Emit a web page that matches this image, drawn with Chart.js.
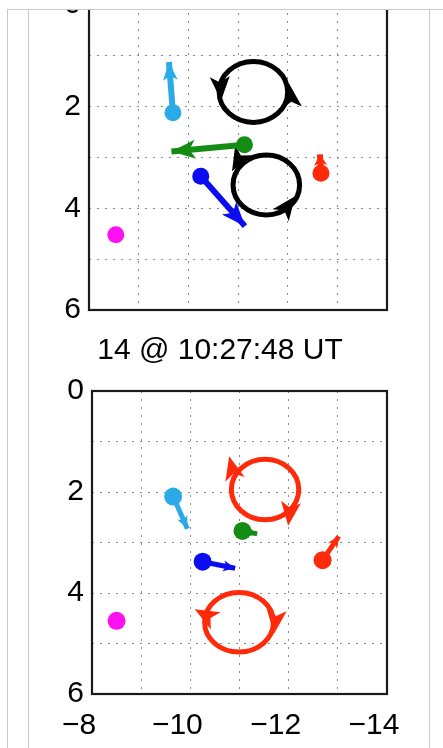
<!DOCTYPE html>
<html><head><meta charset="utf-8">
<script src="https://cdn.jsdelivr.net/npm/chart.js@4"></script>
<style>
html,body{margin:0;padding:0;background:#fff;}
body{width:443px;height:748px;overflow:hidden;position:relative;}
.ln{position:absolute;background:#c9c9c9;}
#clipTop{position:absolute;left:0;top:10px;width:443px;height:322px;overflow:hidden;}
#cTop{position:absolute;left:0;top:-70px;}
#cBot{position:absolute;left:0;top:330px;}
</style></head><body>
<div id="clipTop"><canvas id="cTop" width="443" height="420"></canvas></div>
<canvas id="cBot" width="443" height="418"></canvas>
<div class="ln" style="left:7px;top:9px;width:436px;height:1px"></div>
<div class="ln" style="left:7px;top:9px;width:1px;height:739px"></div>
<div class="ln" style="left:28px;top:9px;width:1px;height:739px"></div>
<div class="ln" style="left:429px;top:9px;width:1px;height:739px"></div>
<script>
// ---- data ----
const objectNames = ['cyan', 'green', 'blue', 'red', 'magenta'];
const objectColors = ['#2baae8', '#148c14', '#0c0cf0', '#ff2a0a', '#ff10f0'];
const xTickValues = [-8, -10, -12, -14];
const yTickValues = [0, 2, 4, 6];

// top panel
const topStartX = [-9.69, -11.13, -10.25, -12.67, -8.54];
const topStartY = [2.12, 2.75, 3.37, 3.31, 4.52];
const topEndX = [-9.61, -9.66, -11.14, -12.65, null];
const topEndY = [1.12, 2.88, 4.35, 2.94, null];
const topVortexX = [-11.31, -11.57];
const topVortexY = [1.71, 3.54];
const topVortexRx = [0.69, 0.67];
const topVortexRy = [0.60, 0.59];
const topVortexHeadTipX = [-10.66, -12.03, -10.88, -12.15];
const topVortexHeadTipY = [1.88, 1.55, 3.27, 3.76];
const topVortexHeadTailX = [-10.64, -12.07, -11.06, -11.89];
const topVortexHeadTailY = [1.53, 1.88, 2.96, 4.10];

// bottom panel
const bottomTitle = '14 @ 10:27:48 UT';
const botStartX = [-9.65, -11.06, -10.25, -12.69, -8.50];
const botStartY = [2.09, 2.77, 3.38, 3.35, 4.55];
const botEndX = [-9.94, -11.36, -10.91, -13.02, null];
const botEndY = [2.73, 2.83, 3.51, 2.88, null];
const botVortexX = [-11.52, -10.99];
const botVortexY = [1.95, 4.58];
const botVortexRx = [0.685, 0.70];
const botVortexRy = [0.60, 0.59];
const botVortexHeadTipX = [-10.79, -11.99, -10.09, -11.70];
const botVortexHeadTipY = [1.29, 2.67, 4.32, 4.81];
const botVortexHeadTailX = [-10.87, -12.03, -10.42, -11.74];
const botVortexHeadTailY = [1.60, 2.34, 4.50, 4.48];

// ---- helpers ----
const FONT = "'Liberation Sans', Arial, Helvetica, sans-serif";
const fmt = v => v < 0 ? '\u2212' + Math.abs(v) : String(v);

function drawHead(ctx, x0, y0, x1, y1, len, hw, color) {
  const a = Math.atan2(y1 - y0, x1 - x0);
  ctx.save();
  ctx.translate(x1, y1);
  ctx.rotate(a);
  ctx.beginPath();
  ctx.moveTo(0, 0);
  ctx.lineTo(-len, -hw);
  ctx.lineTo(-len * 0.75, 0);
  ctx.lineTo(-len, hw);
  ctx.closePath();
  ctx.fillStyle = color;
  ctx.fill();
  ctx.restore();
}

function makeDatasets(sx, sy, ex, ey, dotR, shaftW) {
  return objectNames.map((n, i) => {
    const data = [{x: sx[i], y: sy[i]}];
    if (ex[i] !== null) data.push({x: ex[i], y: ey[i]});
    return {
      label: n,
      data,
      showLine: true,
      borderColor: objectColors[i],
      backgroundColor: objectColors[i],
      pointBackgroundColor: objectColors[i],
      borderWidth: shaftW,
      borderCapStyle: 'butt',
      pointRadius: data.map((d, j) => j === 0 ? dotR : 0),
      pointHoverRadius: 0,
      pointBorderWidth: 0
    };
  });
}

function makeDecorPlugin(v) {
  return {
    id: 'decor',
    beforeDatasetsDraw(chart) {
      const {ctx, chartArea: ca, scales: {x, y}} = chart;
      ctx.save();
      // axes box
      ctx.strokeStyle = '#1a1a1a';
      ctx.lineWidth = 2.2;
      ctx.strokeRect(ca.left, ca.top, ca.right - ca.left, ca.bottom - ca.top);
      // vortex rings
      ctx.strokeStyle = v.color;
      ctx.lineWidth = 5;
      v.cx.forEach((cx, i) => {
        const px = x.getPixelForValue(cx), py = y.getPixelForValue(v.cy[i]);
        const rx = Math.abs(x.getPixelForValue(cx + v.rx[i]) - px);
        const ry = Math.abs(y.getPixelForValue(v.cy[i] + v.ry[i]) - py);
        ctx.beginPath();
        ctx.ellipse(px, py, rx, ry, 0, 0, Math.PI * 2);
        ctx.stroke();
      });
      v.tipX.forEach((tx, i) => {
        drawHead(ctx,
          x.getPixelForValue(v.tailX[i]), y.getPixelForValue(v.tailY[i]),
          x.getPixelForValue(tx), y.getPixelForValue(v.tipY[i]),
          24, 10, v.color);
      });
      ctx.restore();
    },
    afterDatasetsDraw(chart) {
      const ctx = chart.ctx;
      chart.data.datasets.forEach((ds, i) => {
        const meta = chart.getDatasetMeta(i);
        if (meta.data.length < 2) return;
        const p0 = meta.data[0], p1 = meta.data[1];
        const len = Math.hypot(p1.x - p0.x, p1.y - p0.y);
        const hl = Math.max(11, Math.min(24, len * 0.36));
        const hw = Math.max(ds.borderWidth * 1.1, hl * 0.4);
        drawHead(ctx, p0.x, p0.y, p1.x, p1.y, hl, hw, ds.borderColor);
      });
    }
  };
}

function scalesCfg(showX) {
  const gridCfg = {color: '#8a8a8a', lineWidth: 1, drawTicks: false};
  return {
    x: {
      type: 'linear', min: -14, max: -8, reverse: true,
      afterFit: s => { s.height = showX ? 50 : 0; },
      ticks: {display: showX, stepSize: 1, autoSkip: false, maxRotation: 0, padding: 14, labelOffset: -13,
        color: '#000', font: {family: FONT, size: 30},
        callback: v => xTickValues.includes(v) ? fmt(v) : ''},
      grid: gridCfg,
      border: {display: false, dash: [2, 6]}
    },
    y: {
      type: 'linear', min: 0, max: 6, reverse: true,
      afterFit: s => { s.width = 39; },
      ticks: {stepSize: 1, autoSkip: false, padding: 8, color: '#000', font: {family: FONT, size: 30},
        callback: v => yTickValues.includes(v) ? fmt(v) : ''},
      grid: gridCfg,
      border: {display: false, dash: [2, 6]}
    }
  };
}

// ---- top chart ----
new Chart(document.getElementById('cTop'), {
  type: 'scatter',
  data: {datasets: makeDatasets(topStartX, topStartY, topEndX, topEndY, 8.5, 6)},
  options: {
    responsive: false, animation: false, events: [],
    layout: {autoPadding: false, padding: {left: 50, right: 56, top: 65, bottom: 50}},
    plugins: {legend: {display: false}, tooltip: {enabled: false}, title: {display: false}},
    scales: scalesCfg(false)
  },
  plugins: [makeDecorPlugin({color: '#000', cx: topVortexX, cy: topVortexY, rx: topVortexRx, ry: topVortexRy,
    tipX: topVortexHeadTipX, tipY: topVortexHeadTipY, tailX: topVortexHeadTailX, tailY: topVortexHeadTailY})]
});

// ---- bottom chart ----
new Chart(document.getElementById('cBot'), {
  type: 'scatter',
  data: {datasets: makeDatasets(botStartX, botStartY, botEndX, botEndY, 9, 5)},
  options: {
    responsive: false, animation: false, events: [],
    layout: {autoPadding: false, padding: {left: 53, right: 56, top: 0, bottom: 4}},
    plugins: {
      legend: {display: false}, tooltip: {enabled: false},
      title: {display: true, text: bottomTitle, color: '#000', font: {family: FONT, size: 30, weight: 'normal', lineHeight: 1.2},
        padding: {top: 3, bottom: 22}}
    },
    scales: scalesCfg(true)
  },
  plugins: [makeDecorPlugin({color: '#ff2a0a', cx: botVortexX, cy: botVortexY, rx: botVortexRx, ry: botVortexRy,
    tipX: botVortexHeadTipX, tipY: botVortexHeadTipY, tailX: botVortexHeadTailX, tailY: botVortexHeadTailY})]
});
</script>
</body></html>
